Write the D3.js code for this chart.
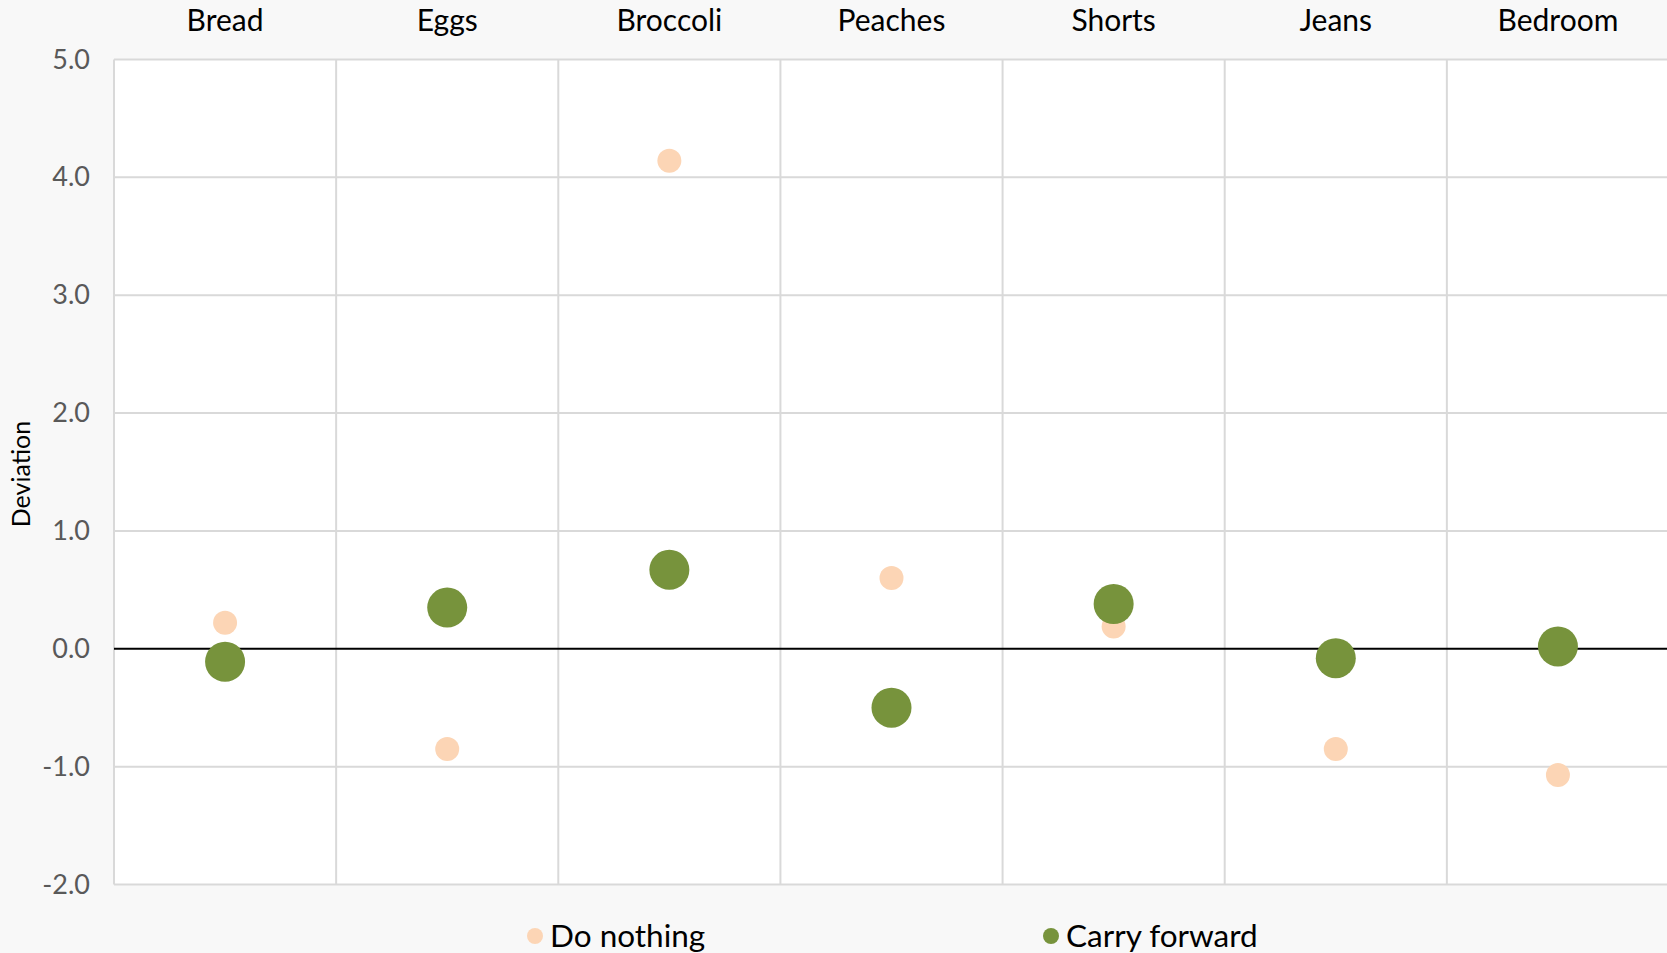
<!DOCTYPE html>
<html>
<head>
<meta charset="utf-8">
<script src="https://cdn.jsdelivr.net/npm/d3@7"></script>
<style>
  body { margin: 0; background: #f8f8f8; }
  svg { display: block; }
  svg text { font-family: "Century Gothic", Lato, "DejaVu Sans", sans-serif; }
</style>
</head>
<body>
<svg id="chart"></svg>
<script>
const width = 1667;
const height = 953;

const categories = ["Bread", "Eggs", "Broccoli", "Peaches", "Shorts", "Jeans", "Bedroom"];
const doNothing = [0.22, -0.85, 4.14, 0.60, 0.19, -0.85, -1.07];
const carryForward = [-0.11, 0.35, 0.67, -0.50, 0.38, -0.08, 0.02];
const yTicks = [-2, -1, 0, 1, 2, 3, 4, 5];

const margin = { top: 59.5, right: -2, bottom: 68.5, left: 114 };

const svg = d3.select('#chart')
  .attr('width', width)
  .attr('height', height);

svg.append('rect')
  .attr('width', width)
  .attr('height', height)
  .attr('fill', '#f8f8f8');

const x = d3.scaleBand()
  .domain(categories)
  .range([margin.left, width - margin.right])
  .padding(0);

const y = d3.scaleLinear()
  .domain([-2, 5])
  .range([height - margin.bottom, margin.top]);

// plot area
svg.append('rect')
  .attr('x', margin.left)
  .attr('y', margin.top)
  .attr('width', width - margin.right - margin.left)
  .attr('height', y(-2) - y(5))
  .attr('fill', '#fff');

// horizontal grid
svg.append('g')
  .selectAll('line')
  .data(yTicks.filter(d => d !== 0))
  .enter().append('line')
  .attr('x1', margin.left)
  .attr('x2', width - margin.right)
  .attr('y1', d => y(d))
  .attr('y2', d => y(d))
  .attr('stroke', '#d9d9d9')
  .attr('stroke-width', 2);

// vertical separators between categories
svg.append('g')
  .selectAll('line')
  .data(categories)
  .enter().append('line')
  .attr('x1', d => x(d))
  .attr('x2', d => x(d))
  .attr('y1', y(5))
  .attr('y2', y(-2))
  .attr('stroke', '#d9d9d9')
  .attr('stroke-width', 2);

// zero line
svg.append('line')
  .attr('x1', margin.left)
  .attr('x2', width - margin.right)
  .attr('y1', y(0))
  .attr('y2', y(0))
  .attr('stroke', '#000')
  .attr('stroke-width', 2);

// y axis labels (plain hyphen for negatives, like the original)
const yAxis = d3.axisLeft(y)
  .tickValues(yTicks)
  .tickSize(0)
  .tickPadding(24)
  .tickFormat(d => d.toFixed(1));

const yg = svg.append('g')
  .attr('transform', `translate(${margin.left},0)`)
  .call(yAxis)
  .attr('font-family', null)
  .attr('font-size', null);
yg.select('.domain').remove();
yg.selectAll('text')
  .attr('fill', '#595959')
  .style('font-size', '27px');

// category labels on top
const xAxis = d3.axisTop(x).tickSize(0).tickPadding(0);
const xg = svg.append('g')
  .attr('transform', `translate(0,31)`)
  .call(xAxis)
  .attr('font-family', null)
  .attr('font-size', null);
xg.select('.domain').remove();
xg.selectAll('text')
  .attr('fill', '#000')
  .attr('dy', 0)
  .style('font-size', '30px');

// axis title
svg.append('text')
  .attr('transform', `translate(30,${(y(5) + y(-2)) / 2 + 2}) rotate(-90)`)
  .attr('text-anchor', 'middle')
  .style('font-size', '25px')
  .text('Deviation');

// points
const cx = d => x(d) + x.bandwidth() / 2;

svg.append('g')
  .selectAll('circle')
  .data(categories)
  .enter().append('circle')
  .attr('cx', cx)
  .attr('cy', (d, i) => y(doNothing[i]))
  .attr('r', 12)
  .attr('fill', '#fcd5b5');

svg.append('g')
  .selectAll('circle')
  .data(categories)
  .enter().append('circle')
  .attr('cx', cx)
  .attr('cy', (d, i) => y(carryForward[i]))
  .attr('r', 20)
  .attr('fill', '#77933c');

// legend
const legendItems = [
  { name: 'Do nothing', color: '#fcd5b5', x: 535 },
  { name: 'Carry forward', color: '#77933c', x: 1051 }
];
const legend = svg.append('g').attr('transform', 'translate(0,936)');
const li = legend.selectAll('g')
  .data(legendItems)
  .enter().append('g')
  .attr('transform', d => `translate(${d.x},0)`);
li.append('circle')
  .attr('r', 8)
  .attr('fill', d => d.color);
li.append('text')
  .attr('x', 15)
  .attr('dy', '0.35em')
  .style('font-size', '31.5px')
  .text(d => d.name);
</script>
</body>
</html>
